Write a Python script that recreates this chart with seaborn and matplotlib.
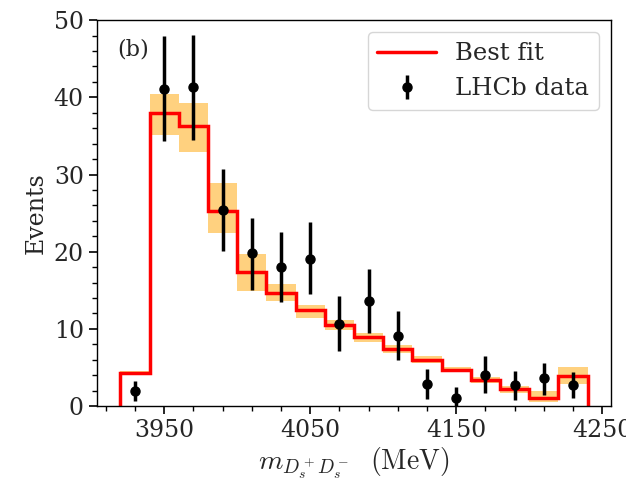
import numpy as np
import matplotlib
matplotlib.use("Agg")
import matplotlib.pyplot as plt
import seaborn as sns
from matplotlib.ticker import MultipleLocator

# bin centres (MeV), 20 MeV bins
mass = [3930, 3950, 3970, 3990, 4010, 4030, 4050, 4070,
        4090, 4110, 4130, 4150, 4170, 4190, 4210, 4230]

# LHCb data points and asymmetric errors
events = [1.9, 41.1, 41.3, 25.4, 19.8, 18.0, 19.1, 10.6,
          13.6, 9.1, 2.9, 1.0, 4.0, 2.7, 3.6, 2.7]
err_low = [1.3, 6.7, 6.8, 5.3, 4.7, 4.5, 4.6, 3.5,
           4.1, 3.1, 2.0, 1.0, 2.3, 1.9, 2.1, 1.7]
err_high = [1.3, 6.8, 6.8, 5.3, 4.6, 4.6, 4.7, 3.6,
            4.1, 3.2, 1.9, 1.5, 2.5, 1.9, 2.0, 1.7]

# best fit and its uncertainty band
fit = [4.3, 38.0, 36.3, 25.3, 17.4, 14.7, 12.4, 10.5,
       8.9, 7.4, 6.0, 4.7, 3.4, 2.2, 1.1, 3.9]
band_low = [4.0, 35.1, 32.9, 22.4, 14.9, 13.6, 11.4, 9.8,
            8.3, 6.9, 5.6, 4.4, 3.05, 1.75, 0.55, 2.9]
band_high = [4.6, 40.4, 39.3, 28.9, 19.7, 15.8, 13.1, 11.1,
             9.5, 7.95, 6.45, 5.0, 3.75, 2.65, 2.0, 5.0]

sns.set_style("ticks")
plt.rcParams["font.family"] = ["DejaVu Serif"]
plt.rcParams["mathtext.fontset"] = "cm"
plt.rcParams["xtick.direction"] = "out"
plt.rcParams["ytick.direction"] = "out"

x = np.array(mass)
edges = np.append(x - 10, x[-1] + 10)

fig = plt.figure(figsize=(6.26, 4.8), dpi=100)
ax = fig.add_axes([0.155, 0.154, 0.821, 0.804])

ax.stairs(band_high, edges, baseline=band_low, fill=True,
          color="orange", alpha=0.5, linewidth=0, zorder=1)
ax.stairs(fit, edges, baseline=0, color="red", linewidth=2.5,
          label="Best fit", zorder=2)
ax.errorbar(mass, events, yerr=[err_low, err_high], fmt="o", color="black",
            markersize=6.5, elinewidth=2.5, capsize=0, label="LHCb data", zorder=3)

ax.set_ylim(0, 50)
ax.xaxis.set_major_locator(MultipleLocator(100, offset=50))
ax.xaxis.set_minor_locator(MultipleLocator(20, offset=10))
ax.yaxis.set_major_locator(MultipleLocator(10))
ax.yaxis.set_minor_locator(MultipleLocator(2))
ax.tick_params(which="major", length=6, width=1.2, labelsize=17, color="black")
ax.tick_params(which="minor", length=3.5, width=1.0, color="black")
for s in ax.spines.values():
    s.set_color("black")
    s.set_linewidth(1.0)

ax.set_xlabel(r"$m_{D_s^+D_s^-}\ \ (\mathrm{MeV})$", fontsize=20, labelpad=2)
ax.set_ylabel("Events", fontsize=17)
ax.text(0.04, 0.925, "(b)", transform=ax.transAxes, fontsize=16,
        va="center", ha="left")
ax.legend(loc="upper right", fontsize=17.5, handlelength=2.4)

fig.savefig("out.png", dpi=100)
